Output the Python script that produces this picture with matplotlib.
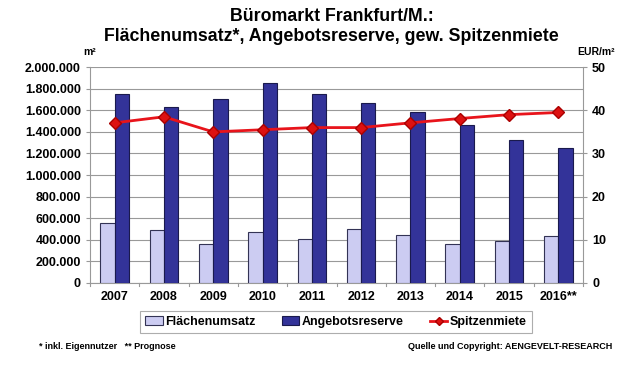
import matplotlib.pyplot as plt
import numpy as np
from matplotlib.ticker import FuncFormatter, MultipleLocator
from matplotlib.lines import Line2D
from matplotlib.patches import Patch

plt.rcParams['font.family'] = ['Liberation Sans', 'DejaVu Sans']

years = ['2007', '2008', '2009', '2010', '2011', '2012', '2013', '2014', '2015', '2016**']
flaechenumsatz = [560000, 490000, 360000, 475000, 410000, 500000, 446000, 363000, 391000, 431000]
angebotsreserve = [1754000, 1631000, 1702000, 1855000, 1754000, 1668000, 1585000, 1462000, 1323000, 1252000]
spitzenmiete = [37.1, 38.5, 35.0, 35.5, 36.0, 36.0, 37.1, 38.1, 39.0, 39.5]

LIGHT = '#CCCCF2'
DARK = '#333399'
RED = '#E8141B'

fig = plt.figure(figsize=(6.4, 3.67), dpi=100)
ax = fig.add_axes([0.1406, 0.229, 0.7704, 0.588])

x = np.arange(len(years))
w = 0.29
ax.bar(x - w / 2, flaechenumsatz, w, color=LIGHT, edgecolor='#333355', linewidth=0.8, zorder=3)
ax.bar(x + w / 2, angebotsreserve, w, color=DARK, edgecolor='#1a1a4d', linewidth=0.8, zorder=3)

ax.set_xlim(-0.5, len(years) - 0.5)
ax.set_ylim(0, 2000000)
ax.yaxis.set_major_locator(MultipleLocator(200000))
ax.yaxis.set_major_formatter(FuncFormatter(lambda v, p: f'{int(v):,}'.replace(',', '.')))
ax.grid(True, axis='y', color='#999999', linewidth=0.8, zorder=0)
ax.set_xticks(x)
ax.set_xticklabels(years, fontweight='bold', fontsize=9)
ax.tick_params(axis='x', length=0, pad=6)
ax.tick_params(axis='y', labelsize=9, length=3, color='#999999')
for lab in ax.get_yticklabels():
    lab.set_fontweight('bold')
for s in ['top', 'right']:
    ax.spines[s].set_visible(False)
for s in ['left', 'bottom']:
    ax.spines[s].set_color('#999999')
# category separator ticks
for b in np.arange(-0.5, len(years), 1.0):
    ax.plot([b, b], [0, -30000], color='#999999', lw=0.8, clip_on=False, zorder=1)

ax2 = ax.twinx()
ax2.plot(x, spitzenmiete, color=RED, linewidth=2, marker='D', markersize=6,
         markerfacecolor='#DD1111', markeredgecolor='#AA0000', zorder=5)
ax2.set_ylim(0, 50)
ax2.yaxis.set_major_locator(MultipleLocator(10))
ax2.tick_params(axis='y', labelsize=9, length=3, color='#999999')
for lab in ax2.get_yticklabels():
    lab.set_fontweight('bold')
for s in ['top', 'left', 'bottom']:
    ax2.spines[s].set_visible(False)
ax2.spines['right'].set_color('#999999')

fig.text(0.518, 0.955, 'Büromarkt Frankfurt/M.:', ha='center', va='center',
         fontsize=12.8, fontweight='bold')
fig.text(0.518, 0.9, 'Flächenumsatz*, Angebotsreserve, gew. Spitzenmiete', ha='center',
         va='center', fontsize=12.8, fontweight='bold')
fig.text(0.13, 0.858, 'm²', ha='left', va='center', fontsize=7.5, fontweight='bold')
fig.text(0.96, 0.858, 'EUR/m²', ha='right', va='center', fontsize=7.5, fontweight='bold')

handles = [Patch(facecolor=LIGHT, edgecolor='#333355', linewidth=0.8),
           Patch(facecolor=DARK, edgecolor='#1a1a4d', linewidth=0.8),
           Line2D([0], [0], color=RED, lw=2, marker='D', markersize=4,
                  markerfacecolor='#DD1111', markeredgecolor='#AA0000')]
leg = fig.legend(handles, ['Flächenumsatz', 'Angebotsreserve', 'Spitzenmiete'],
                 loc='center', bbox_to_anchor=(0.525, 0.122), ncol=3,
                 frameon=True, fancybox=False, edgecolor='#999999', handlelength=1.4,
                 handletextpad=0.2, columnspacing=2.1, borderpad=0.4, borderaxespad=0,
                 prop={'weight': 'bold', 'size': 9})
leg.get_frame().set_linewidth(0.8)

fig.text(0.061, 0.057, '* inkl. Eigennutzer   ** Prognose', ha='left', va='center',
         fontsize=6.5, fontweight='bold')
fig.text(0.957, 0.057, 'Quelle und Copyright: AENGEVELT-RESEARCH', ha='right', va='center',
         fontsize=6.5, fontweight='bold')

fig.savefig('out.png', dpi=100)
